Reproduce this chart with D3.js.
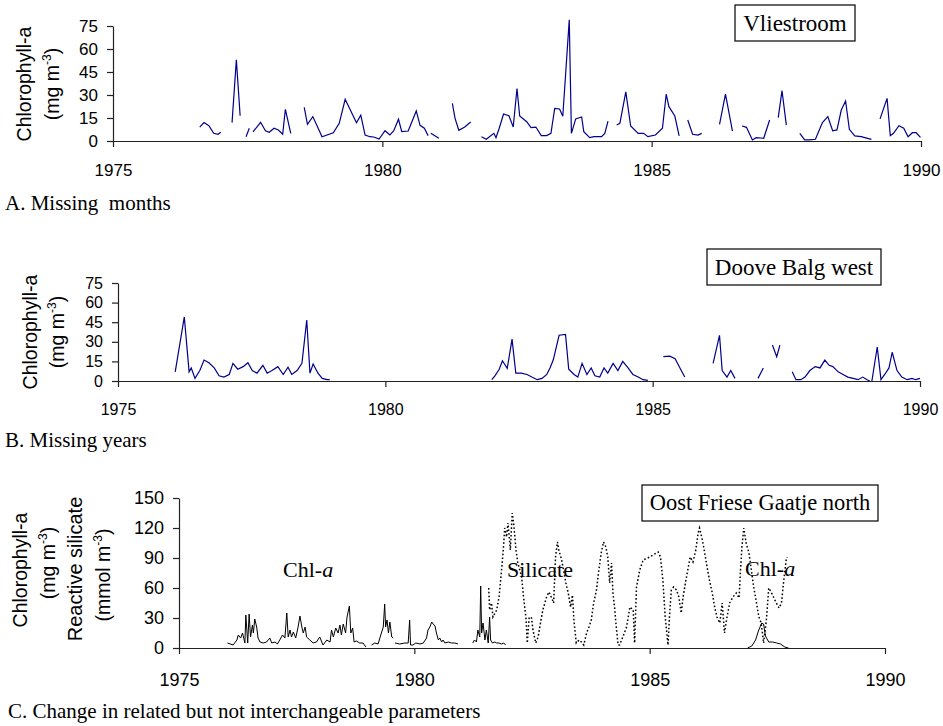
<!DOCTYPE html>
<html><head><meta charset="utf-8">
<script src="https://cdn.jsdelivr.net/npm/d3@7"></script>
<style>body{margin:0;background:#fff}svg{display:block;background:#fff}</style>
</head><body><svg id="c" width="943" height="726"></svg>
<script>
// ---------- DATA ----------
const xTickYears = [1975, 1980, 1985, 1990];
const chlTicksAB = [0, 15, 30, 45, 60, 75];
const chlSilTicksC = [0, 30, 60, 90, 120, 150];

// Panel A – Vliestroom chlorophyll-a (null = break in record)
const vliestroomYears = [
 1976.61,1976.69,1976.78,1976.87,1976.95,1977.00, null,
 1977.21,1977.29,1977.36, null,
 1977.47,1977.53, null,
 1977.60,1977.74,1977.83,1977.90,1977.99,1978.07,1978.15,1978.20,1978.30, null,
 1978.55,1978.61,1978.71,1978.79,1978.88,1979.09,1979.20,1979.31,1979.52,1979.60,1979.68,1979.77,1979.84,1979.94,1980.05,1980.14,1980.21,1980.30,1980.36,1980.48,1980.63,1980.70,1980.78,1980.85, null,
 1980.90,1981.05, null,
 1981.30,1981.35,1981.42,1981.53,1981.64, null,
 1981.84,1981.93,1982.07,1982.11,1982.17,1982.25,1982.35,1982.43,1982.50,1982.55,1982.68,1982.76,1982.85,1982.95,1983.05,1983.13,1983.20,1983.29,1983.35,1983.47,1983.51,1983.59,1983.70,1983.74,1983.85,1983.93,1984.07,1984.13,1984.19, null,
 1984.35,1984.41,1984.52,1984.61,1984.75,1984.85,1984.93,1985.07,1985.20,1985.27,1985.32,1985.43,1985.51, null,
 1985.67,1985.76,1985.86,1985.93, null,
 1986.26,1986.37,1986.50, null,
 1986.68,1986.76,1986.87,1986.94,1987.08,1987.19, null,
 1987.35,1987.42,1987.50, null,
 1987.75,1987.84,1987.93,1988.04,1988.17,1988.27,1988.36,1988.44,1988.52,1988.60,1988.67,1988.77,1988.89,1989.08, null,
 1989.24,1989.37,1989.43,1989.49,1989.59,1989.68,1989.76,1989.84,1989.91,1989.99
];
const vliestroomChl = [
 9,12,10,5,4.4,5.7, null,
 12,53,16.5, null,
 2.8,8.3, null,
 6,12.2,6.7,5.7,8.3,7.2,4.4,20.7,5, null,
 22.0,10.9,15.9,9.8,2.8,5.4,11.5,27.2,11.9,16.8,3.9,2.8,2.6,1.3,6.7,3.9,6.5,14.2,6.1,6.5,19.6,10.2,8.3,3.5, null,
 5.0,1.8, null,
 24.6,14.8,7.0,9.1,12.4, null,
 2.8,1.1,5.0,2.2,8.3,17.6,16.5,9.1,34.2,16.3,12.6,8.7,9.1,3.5,3.5,5.0,21.3,20.9,16.1,79,5.0,14.4,15.7,6.1,2.2,2.8,2.8,5.0,13.0, null,
 10.4,11.5,32.0,9.8,5.0,5.0,2.8,3.9,8.3,30.5,22.4,16.3,3.3, null,
 13.7,4.4,3.9,5.0, null,
 10.9,30.5,6.5, null,
 9.8,8.9,0.7,2.2,1.8,13.7, null,
 15.2,32.8,10.4, null,
 5.0,0.7,0.7,1.1,12.0,15.9,6.7,7.2,20.2,26.1,7.6,3.3,2.8,1.1, null,
 14.4,27.8,3.5,5.0,10.0,8.3,2.8,5.4,5.4,2.4
];

// Panel B – Doove Balg west chlorophyll-a
const dooveBalgYears = [
 1976.07,1976.24,1976.33,1976.37,1976.44,1976.53,1976.61,1976.70,1976.80,1976.89,1976.98,1977.08,1977.15,1977.24,1977.34,1977.43,1977.51,1977.60,1977.71,1977.79,1977.88,1977.99,1978.09,1978.18,1978.25,1978.35,1978.44,1978.53,1978.59,1978.65,1978.74,1978.82,1978.91,1978.96, null,
 1981.99,1982.05,1982.13,1982.19,1982.28,1982.37,1982.44,1982.54,1982.65,1982.74,1982.84,1982.93,1983.02,1983.08,1983.14,1983.25,1983.37,1983.43,1983.53,1983.60,1983.68,1983.77,1983.85,1983.92,1984.01,1984.09,1984.16,1984.26,1984.35,1984.44,1984.54,1984.63,1984.73,1984.82,1984.91, null,
 1985.20,1985.32,1985.42,1985.51,1985.60, null,
 1986.13,1986.25,1986.30,1986.39,1986.46,1986.54, null,
 1986.97,1987.07, null,
 1987.24,1987.32,1987.38, null,
 1987.61,1987.68,1987.77,1987.85,1987.94,1988.04,1988.13,1988.22,1988.30,1988.37,1988.47,1988.56,1988.65,1988.75,1988.84,1988.93,1989.01,1989.06, null,
 1989.10,1989.20,1989.27,1989.34,1989.42,1989.48,1989.57,1989.66,1989.76,1989.85,1989.92,1990.00
];
const dooveBalgChl = [
 7,49,7,10,2,8,16,14,10,4,3,5,13.5,9,11,14,8,6,12,6,8,11,5,10.5,5,8,13.5,46.7,6,13,6,2,1,1, null,
 1,4,9,15.5,9.7,32,6,6,5,3,1,2,5,10,16,35,35.7,9,5,3,13.5,5,10,4,3,10,6,13.5,8,15,10,5,3,1,0.5, null,
 18.6,19,17,10,3, null,
 13.5,35,8,3,8,2, null,
 2,10, null,
 27.5,18.6,27.5, null,
 7,1,1,3,8,11,10,16,12,11,7,5,3,2,1,3,1,0, null,
 0,26,1,5,10,22,8,3,1,2,1,2
];

// Panel C – Oost Friese Gaatje north
const ofgChlYears = [
 1976.03,1976.15,1976.23,1976.26,1976.31,1976.35,1976.40,1976.42,1976.46,1976.49,1976.52,1976.56,1976.58,1976.61,1976.65,1976.68,1976.72,1976.79,1976.86,1976.93,1976.97,1977.04,1977.09,1977.14,1977.20,1977.25,1977.29,1977.32,1977.36,1977.39,1977.43,1977.48,1977.53,1977.57,1977.61,1977.64,1977.68,1977.71,1977.78,1977.85,1977.92,1977.99,1978.06,1978.14,1978.21,1978.24,1978.28,1978.33,1978.38,1978.42,1978.45,1978.49,1978.54,1978.57,1978.62,1978.65,1978.69,1978.72,1978.77,1978.84,1978.91,1978.97, null,
 1979.09,1979.16,1979.23,1979.30,1979.34,1979.37,1979.39,1979.42,1979.45,1979.48,1979.52,1979.55, null,
 1979.59,1979.69,1979.80,1979.87,1979.90,1979.92,1979.97,1980.03,1980.12,1980.19,1980.26,1980.29,1980.33,1980.37,1980.40,1980.44,1980.47,1980.51,1980.54,1980.58,1980.61,1980.65,1980.72,1980.79,1980.86,1980.93, null,
 1981.24,1981.28,1981.32,1981.35,1981.39,1981.41,1981.43,1981.46,1981.50,1981.53,1981.57,1981.60,1981.62,1981.66,1981.71,1981.75,1981.80,1981.85,1981.90,1981.94, null,
 1987.08,1987.17,1987.25,1987.31,1987.38,1987.42,1987.46,1987.53,1987.61,1987.70,1987.78,1987.87,1987.95
];
const ofgChl = [
 5,3,8,13,10,15,5,33,5,34,11,23,15,29,21,10,6,5,6,10,5,6,4,8,13,10,35,11,18,11,16,10,21,32,21,15,21,11,8,5,6,11,3,8,6,18,11,20,15,23,13,24,15,31,42,15,20,6,7,5,5,1, null,
 3,5,4,15,21,44,21,28,15,26,11,10, null,
 5,4,5,5,28,3,3,5,4,5,10,18,21,26,24,22,15,8,10,6,8,5,6,5,5,4, null,
 5,8,6,18,11,62,15,25,8,18,5,31,8,5,6,5,5,4,5,3, null,
 0,2,8,17,25,24,12,6,6,5,4,1,0
];
const ofgSilicateYears = [
 1981.58,1981.60,1981.64,1981.67,1981.75,1981.80,1981.84,1981.89,1981.92,1981.96,
 1981.99,1982.04,1982.08,1982.11,1982.16,1982.20,1982.28,1982.32,1982.37,1982.40,
 1982.44,1982.49,1982.52,1982.58,1982.63,1982.68,1982.73,1982.81,1982.86,1982.91,
 1982.96,1983.00,1983.04,1983.07,1983.13,1983.17,1983.22,1983.27,1983.32,1983.36,
 1983.39,1983.44,1983.50,1983.55,1983.60,1983.66,1983.71,1983.76,1983.81,1983.87,
 1983.92,1983.97,1984.02,1984.07,1984.11,1984.15,1984.19,1984.22,1984.26,1984.29,
 1984.33,1984.36,1984.43,1984.51,1984.58,1984.65,1984.68,1984.72,1984.79,1984.86,
 1984.96,1985.07,1985.18,1985.23,1985.28,1985.33,1985.39,1985.42,1985.46,1985.51,
 1985.57,1985.62,1985.67,1985.71,1985.76,1985.81,1985.86,1985.92,1985.98,1986.03,
 1986.06,1986.12,1986.17,1986.22,1986.27,1986.33,1986.38,1986.43,1986.49,1986.54,
 1986.59,1986.64,1986.70,1986.77,1986.84,1986.90,1986.93,1986.96,1987.00,1987.05,
 1987.11,1987.16,1987.21,1987.27,1987.32,1987.37,1987.42,1987.48,1987.53,1987.58,
 1987.63,1987.69,1987.75,1987.80,1987.85,1987.90,1987.92
];
const ofgSilicate = [
 60,38,45,31,38,51,71,98,120,111,
 125,98,135,125,98,85,71,51,31,5,
 31,30,18,5,11,25,38,51,56,51,
 45,91,106,98,88,78,65,55,41,53,
 28,5,8,6,3,15,21,28,45,58,
 78,95,106,101,91,65,85,55,38,21,
 3,3,11,21,41,38,5,61,78,88,
 90,93,96,91,68,31,3,31,58,61,
 58,51,35,51,65,78,91,86,98,115,
 120,108,95,81,68,55,41,31,25,45,
 15,30,45,51,55,50,78,101,120,105,
 95,78,61,45,31,25,5,28,60,56,
 51,45,40,45,68,88,91
];

// ---------- DRAW ----------
const SANS = '"Liberation Sans", Arial, Helvetica, sans-serif';
const SERIF = '"Liberation Serif", "Times New Roman", Times, serif';
const svg = d3.select('#c');
svg.append('rect').attr('width', 943).attr('height', 726).attr('fill', '#fff');

function makePanel(o) {
  const x = d3.scaleLinear().domain([1975, 1990]).range([o.x0, o.x1]);
  const y = d3.scaleLinear().domain([0, o.ymax]).range([o.y0, o.y1]);
  const g = svg.append('g');
  const gy = g.append('g').attr('transform', `translate(${o.x0},0)`)
    .call(d3.axisLeft(y).tickValues(o.yTicks).tickSize(6).tickSizeOuter(0).tickPadding(9));
  const gx = g.append('g').attr('transform', `translate(0,${o.y0})`)
    .call(d3.axisBottom(x).tickValues(xTickYears).tickFormat(d3.format('d')).tickSize(6).tickSizeOuter(0).tickPadding(o.xpad));
  [gy, gx].forEach(a => {
    a.selectAll('path,line').attr('stroke', '#222').attr('stroke-width', 1.2);
    a.selectAll('text').attr('font-family', SANS).attr('font-size', o.tickFont).attr('fill', '#000');
  });
  return { x, y, g };
}

function drawLine(p, years, vals, style) {
  const line = d3.line().defined(d => d[0] != null && d[1] != null)
    .x(d => p.x(d[0])).y(d => p.y(d[1]));
  const path = p.g.append('path').datum(d3.zip(years, vals)).attr('d', line)
    .attr('fill', 'none').attr('stroke', style.color).attr('stroke-width', style.width)
    .attr('stroke-linejoin', 'miter');
  if (style.dash) path.attr('stroke-dasharray', style.dash);
}

function yTitle(x, y, size, main, sup, tail) {
  const t = svg.append('text').attr('transform', `translate(${x},${y}) rotate(-90)`)
    .attr('text-anchor', 'middle').attr('font-family', SANS).attr('font-size', size).attr('fill', '#000');
  t.append('tspan').text(main);
  if (sup) {
    t.append('tspan').attr('font-size', size * 0.62).attr('dy', -size * 0.42).text(sup);
    t.append('tspan').attr('dy', size * 0.42).text(tail);
  }
}

function box(x, y, w, h, label, size, tx, ty) {
  svg.append('rect').attr('x', x).attr('y', y).attr('width', w).attr('height', h)
    .attr('fill', '#fff').attr('stroke', '#000').attr('stroke-width', 1.2);
  svg.append('text').attr('x', tx).attr('y', ty).attr('text-anchor', 'middle')
    .attr('font-family', SERIF).attr('font-size', size).attr('fill', '#000').text(label);
}

function caption(x, y, label) {
  svg.append('text').attr('x', x).attr('y', y).attr('font-family', SERIF).attr('font-size', 21)
    .attr('fill', '#000').style('white-space', 'pre').text(label);
}

// Panel A
const pA = makePanel({ x0: 113, x1: 921, y0: 141, y1: 26, ymax: 75, yTicks: chlTicksAB, tickFont: 17, xpad: 17 });
drawLine(pA, vliestroomYears, vliestroomChl, { color: '#00008b', width: 1.2 });
yTitle(31, 84, 19.5, 'Chlorophyll-a');
yTitle(59, 84, 19.5, '(mg m', '-3', ')');
box(735, 5, 120, 36, 'Vliestroom', 23, 795, 31);
caption(5, 210, 'A. Missing  months');

// Panel B
const pB = makePanel({ x0: 118, x1: 920, y0: 381, y1: 283, ymax: 75, yTicks: chlTicksAB, tickFont: 16, xpad: 17 });
drawLine(pB, dooveBalgYears, dooveBalgChl, { color: '#00008b', width: 1.2 });
yTitle(37, 332, 19.5, 'Chlorophyll-a');
yTitle(64, 332, 19.5, '(mg m', '-3', ')');
box(707, 249, 174, 36, 'Doove Balg west', 23, 794, 275);
caption(5, 447, 'B. Missing years');

// Panel C
const pC = makePanel({ x0: 179, x1: 885, y0: 648, y1: 498, ymax: 150, yTicks: chlSilTicksC, tickFont: 18, xpad: 19 });
drawLine(pC, ofgSilicateYears, ofgSilicate, { color: '#000', width: 1.5, dash: '1.6,2.2' });
drawLine(pC, ofgChlYears, ofgChl, { color: '#000', width: 1 });
yTitle(27, 570, 19.5, 'Chlorophyll-a');
yTitle(55, 563, 19.5, '(mg m', '-3', ')');
yTitle(82, 569, 20, 'Reactive silicate');
yTitle(110, 575, 19.5, '(mmol m', '-3', ')');
box(642, 485, 236, 36, 'Oost Friese Gaatje north', 22.5, 760, 510);
function chlLabel(x, y) {
  const t = svg.append('text').attr('x', x).attr('y', y).attr('font-family', SERIF).attr('font-size', 22).attr('fill', '#000');
  t.append('tspan').text('Chl-');
  t.append('tspan').attr('font-style', 'italic').text('a');
}
chlLabel(283, 577);
svg.append('text').attr('x', 507).attr('y', 577).attr('font-family', SERIF).attr('font-size', 22).attr('fill', '#000').text('Silicate');
chlLabel(745, 576);
caption(8, 718, 'C. Change in related but not interchangeable parameters');
</script>
</body></html>
